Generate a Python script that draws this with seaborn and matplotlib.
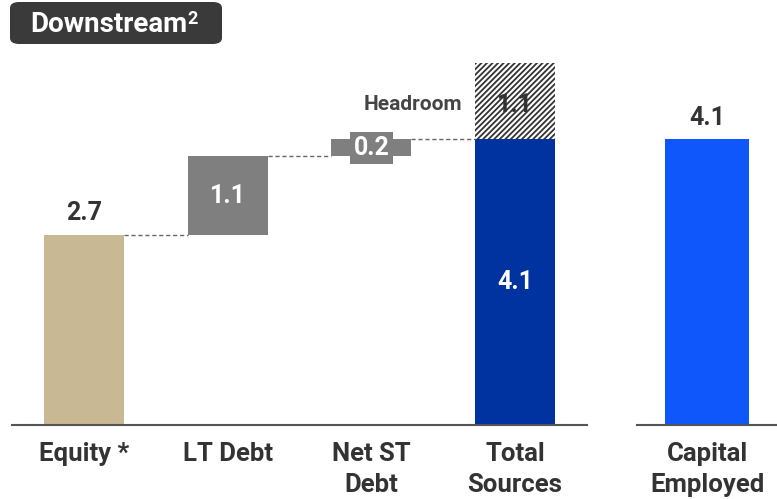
import matplotlib
matplotlib.use("Agg")
import matplotlib.pyplot as plt
from matplotlib.patches import FancyBboxPatch
import seaborn as sns
import pandas as pd

# values
sources = ["Equity *", "LT Debt", "Net ST\nDebt", "Total\nSources"]
source_values = [2.72, 1.13, 0.24, 4.09]
headroom = 1.1
capital_label = ["Capital\nEmployed"]
capital_values = [4.09]

tan = "#C8B994"
grey = "#7F7F7F"
dark_blue = "#0033A0"
bright_blue = "#0F57FA"
text_dark = "#333333"

sns.set_style("white")
plt.rcParams["font.family"] = ["Roboto", "DejaVu Sans"]
plt.rcParams["font.weight"] = "bold"
plt.rcParams["hatch.linewidth"] = 1.3
plt.rcParams["hatch.color"] = "#333333"

fig = plt.figure(figsize=(7.77, 4.99), dpi=100)
ax1 = fig.add_axes([12 / 777, 74 / 499, 575 / 777, 391 / 499])
ax2 = fig.add_axes([637 / 777, 74 / 499, 140 / 777, 391 / 499])

# waterfall: bottoms are the running total, last bar starts at zero
bottoms = [0, source_values[0], source_values[0] + source_values[1], 0]
df = pd.DataFrame({"category": sources, "value": source_values, "bottom": bottoms})
colors = [tan, grey, grey, dark_blue]

sns.barplot(data=df, x="category", y="value", ax=ax1, width=0.557,
            color=grey, saturation=1, linewidth=0)
for patch, b, h, c in zip(ax1.patches, df["bottom"], df["value"], colors):
    patch.set_y(b)
    patch.set_height(h)
    patch.set_facecolor(c)

# headroom on top of total sources
ax1.bar(3, headroom, bottom=source_values[3], width=0.557, facecolor="white",
        edgecolor="#333333", hatch="//////", linewidth=0)

# dashed connectors
half = 0.557 / 2
tops = [b + h for b, h in zip(bottoms, source_values)]
for i in range(3):
    ax1.plot([i + half, i + 1 - half], [tops[i], tops[i]], color="#666666",
             lw=1, ls=(0, (3, 2)))

# labels
big = dict(fontsize=18, fontweight="bold")
ax1.text(0, tops[0] + 0.14, f"{source_values[0]:.1f}", ha="center", va="bottom",
         color=text_dark, **big)
ax1.text(1, bottoms[1] + source_values[1] / 2, f"{source_values[1]:.1f}", ha="center",
         va="center", color="white", **big)
ax1.text(2, bottoms[2] + source_values[2] / 2, f"{source_values[2]:.1f}", ha="center",
         va="center", color="white", **big,
         bbox=dict(boxstyle="square,pad=0.15", fc=grey, ec="none"))
ax1.text(3, source_values[3] / 2, f"{source_values[3]:.1f}", ha="center", va="center",
         color="white", **big)
ax1.text(3, source_values[3] + headroom * 0.45, f"{headroom:.1f}", ha="center",
         va="center", color=text_dark, **big)
ax1.text(2.63, source_values[3] + headroom * 0.45, "Headroom", ha="right", va="center",
         fontsize=15, color="#444444", fontweight="bold")

# capital employed
cap = pd.DataFrame({"category": capital_label, "value": capital_values})
sns.barplot(data=cap, x="category", y="value", ax=ax2, width=0.6,
            color=bright_blue, saturation=1, linewidth=0)
ax2.text(0, capital_values[0] + 0.14, f"{capital_values[0]:.1f}", ha="center",
         va="bottom", color=text_dark, **big)

for ax in (ax1, ax2):
    ax.set_ylim(0, 5.6)
    ax.set_xlabel("")
    ax.set_ylabel("")
    ax.set_yticks([])
    ax.tick_params(axis="x", length=0, pad=12, labelsize=18.5, labelcolor=text_dark)
    for lbl in ax.get_xticklabels():
        lbl.set_fontweight("bold")
        lbl.set_linespacing(1.4)
    for s in ["top", "left", "right"]:
        ax.spines[s].set_visible(False)
    ax.spines["bottom"].set_color("#555555")
    ax.spines["bottom"].set_linewidth(1.5)
ax1.set_xlim(-0.5, 3.5)
ax2.set_xlim(-0.5, 0.5)

# title badge
badge = FancyBboxPatch((10 / 777, 455 / 499), 212 / 777, 42 / 499,
                       boxstyle="round,pad=0,rounding_size=0.012",
                       transform=fig.transFigure, fc="#3A3A3A", ec="none")
fig.patches.append(badge)
fig.text(30 / 777, 1 - 24 / 499, "Downstream", ha="left", va="center",
         fontsize=20, color="white", fontweight="bold")
fig.text(187 / 777, 1 - 19 / 499, "2", ha="left", va="center",
         fontsize=13, color="white", fontweight="bold")

fig.savefig("out.png", dpi=100)
